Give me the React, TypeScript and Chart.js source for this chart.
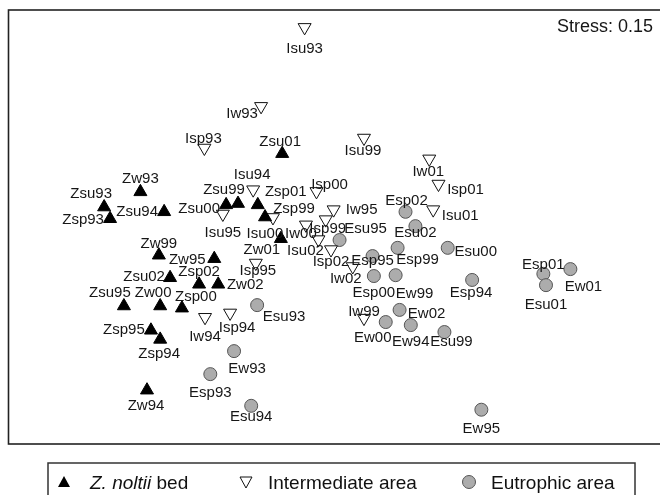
import React, { useEffect, useRef } from "react";
import { Chart, registerables } from "chart.js";

Chart.register(...registerables);

const FONT = '"Liberation Sans", Arial, Helvetica, sans-serif';

// Z. noltii bed samples
const zNames = ["Zsu01","Zw93","Zsu93","Zsp93","Zsu94","Zsu00","Zsu99","Zsp01","Zsp99","Zw01","Zw99","Zw95","Zsu02","Zsp02","Zw02","Zsu95","Zw00","Zsp00","Zsp95","Zsp94","Zw94"];
const zX = [41.5,20.0,14.5,15.4,23.6,33.0,34.8,37.8,38.9,41.3,22.8,31.2,24.5,28.9,31.8,17.5,23.0,26.3,21.6,23.0,21.0];
const zY = [66.9,58.1,54.6,51.9,53.5,55.1,55.4,55.1,52.3,47.3,43.5,42.7,38.3,36.8,36.8,31.8,31.8,31.3,26.2,24.1,12.4];

// Intermediate area samples
const iNames = ["Isu93","Iw93","Isp93","Isu99","Isu94","Isp00","Isu95","Isu00","Iw95","Iw00","Isp99","Isu02","Isp02","Iw02","Iw01","Isp01","Isu01","Isp95","Iw94","Isp94","Iw99"];
const iX = [44.9,38.3,29.7,53.9,37.1,46.7,32.5,40.1,49.3,45.1,48.1,47.0,48.9,52.2,63.8,65.2,64.4,37.5,29.8,33.6,53.9];
const iY = [96.0,77.8,68.2,70.5,58.6,58.2,53.0,52.2,54.0,50.5,51.7,47.1,44.8,40.9,65.7,59.9,54.0,41.7,29.2,30.2,29.0];

// Eutrophic area samples
const eNames = ["Esu95","Esp02","Esu02","Esp99","Esu00","Esp95","Esp00","Ew99","Esp94","Esp01","Ew01","Esu01","Ew02","Ew00","Ew94","Esu99","Esu93","Ew93","Esp93","Esu94","Ew95"];
const eX = [50.2,60.2,61.7,59.0,66.6,55.2,55.4,58.7,70.3,81.1,85.2,81.5,59.3,57.2,61.0,66.1,37.7,34.2,30.6,36.8,71.7];
const eY = [47.0,53.5,50.2,45.2,45.2,43.3,38.7,38.9,37.8,39.2,40.3,36.6,30.9,28.1,27.4,25.8,32.0,21.4,16.1,8.8,7.9];

const legendLabels = ["Z. noltii bed", "Intermediate area", "Eutrophic area"];
const stressText = "Stress: 0.15";

// label placement relative to each marker (style, in px)
const labelOffsets: Record<string, [number, number]> = {
  Zsu01: [-2, -13], Zw93: [0, -14], Zsu93: [-13, -14], Zsp93: [-27, 0], Zsu94: [-27, -1],
  Zsu00: [-27, 3], Zsu99: [-14, -15], Zsp01: [28, -14], Zsp99: [29, -9], Zw01: [-19, 10],
  Zw99: [0, -13], Zw95: [-27, 0], Zsu02: [-26, -2], Zsp02: [0, -14], Zw02: [27, -1],
  Zsu95: [-14, -14], Zw00: [-7, -14], Zsp00: [14, -13], Zsp95: [-27, -2], Zsp94: [-1, 13], Zw94: [-1, 14],
  Isu93: [0, 20], Iw93: [-19, 6], Isp93: [-1, -10], Isu99: [-1, 12], Isu94: [-1, -16],
  Isp00: [13, -8], Isu95: [0, 18], Isu00: [-8, 15], Iw95: [28, -1], Iw00: [-5, 8],
  Isp99: [2, 8], Isu02: [-13, 10], Isp02: [0, 11], Iw02: [-7, 11], Iw01: [-1, 12],
  Isp01: [27, 5], Isu01: [27, 5], Isp95: [2, 7], Iw94: [0, 18], Isp94: [7, 14], Iw99: [0, -8],
  Esu95: [26, -12], Esp02: [1, -12], Esu02: [0, 5], Esp99: [20, 11], Esu00: [28, 3],
  Esp95: [0, 4], Esp00: [0, 16], Ew99: [19, 17], Esp94: [-1, 12], Esp01: [0, -10],
  Ew01: [13, 17], Esu01: [0, 18], Ew02: [27, 3], Ew00: [-13, 15], Ew94: [0, 16],
  Esu99: [7, 9], Esu93: [27, 10], Ew93: [13, 16], Esp93: [0, 17], Esu94: [0, 10], Ew95: [0, 18],
};

const toPoints = (xs: number[], ys: number[]) => xs.map((x, i) => ({ x, y: ys[i] }));

const labelPlugin = {
  id: "pointLabels",
  afterDatasetsDraw(chart: any) {
    const ctx = chart.ctx;
    ctx.save();
    ctx.font = `15px ${FONT}`;
    ctx.fillStyle = "#161616";
    ctx.textAlign = "center";
    ctx.textBaseline = "alphabetic";
    chart.data.datasets.forEach((ds: any, di: number) => {
      const meta = chart.getDatasetMeta(di);
      const names: string[] = ds.names;
      meta.data.forEach((el: any, i: number) => {
        const name = names[i];
        const off = labelOffsets[name] || [0, 14];
        ctx.fillText(name, el.x + off[0], el.y + off[1] + 5.4);
      });
    });
    ctx.restore();
  },
};

const framePlugin = {
  id: "frameAndLegend",
  afterDraw(chart: any) {
    const ctx = chart.ctx;
    const a = chart.chartArea;
    ctx.save();
    // plot frame
    ctx.strokeStyle = "#222";
    ctx.lineWidth = 1.6;
    ctx.strokeRect(a.left, a.top, a.right - a.left, a.bottom - a.top);

    // stress text
    ctx.fillStyle = "#161616";
    ctx.font = `18px ${FONT}`;
    ctx.textAlign = "left";
    ctx.textBaseline = "alphabetic";
    ctx.fillText(stressText, 557, 32.4);

    // legend box
    ctx.strokeStyle = "#333";
    ctx.lineWidth = 1.5;
    ctx.strokeRect(48, 463, 587, 45);

    const cy = 482;
    // filled up triangle
    ctx.beginPath();
    ctx.moveTo(64, cy - 6);
    ctx.lineTo(70, cy + 5);
    ctx.lineTo(58, cy + 5);
    ctx.closePath();
    ctx.fillStyle = "#000";
    ctx.fill();

    // open down triangle
    ctx.beginPath();
    ctx.moveTo(240, cy - 5);
    ctx.lineTo(252, cy - 5);
    ctx.lineTo(246, cy + 6);
    ctx.closePath();
    ctx.fillStyle = "#fff";
    ctx.fill();
    ctx.strokeStyle = "#111";
    ctx.lineWidth = 1;
    ctx.stroke();

    // grey circle
    ctx.beginPath();
    ctx.arc(469, cy, 6.5, 0, Math.PI * 2);
    ctx.fillStyle = "#acacac";
    ctx.fill();
    ctx.strokeStyle = "#555";
    ctx.lineWidth = 1;
    ctx.stroke();

    // legend texts
    const base = 488.5;
    ctx.fillStyle = "#111";
    const first = legendLabels[0];
    const italicPart = first.slice(0, 9); // "Z. noltii"
    const rest = first.slice(9); // " bed"
    ctx.font = `italic 19px ${FONT}`;
    ctx.fillText(italicPart, 90, base);
    const w = ctx.measureText(italicPart).width;
    ctx.font = `19px ${FONT}`;
    ctx.fillText(rest, 90 + w, base);
    ctx.fillText(legendLabels[1], 268, base);
    ctx.fillText(legendLabels[2], 491, base);
    ctx.restore();
  },
};

export default function App() {
  const ref = useRef<HTMLCanvasElement | null>(null);

  useEffect(() => {
    if (!ref.current) return;
    const chart = new Chart(ref.current, {
      type: "scatter",
      data: {
        datasets: [
          {
            label: legendLabels[0],
            names: zNames,
            data: toPoints(zX, zY),
            pointStyle: "triangle",
            pointRadius: 7.5,
            pointHoverRadius: 7.5,
            backgroundColor: "#000",
            borderColor: "#000",
            borderWidth: 1,
          } as any,
          {
            label: legendLabels[1],
            names: iNames,
            data: toPoints(iX, iY),
            pointStyle: "triangle",
            rotation: 180,
            pointRotation: 180,
            pointRadius: 7.5,
            pointHoverRadius: 7.5,
            backgroundColor: "#fff",
            borderColor: "#111",
            borderWidth: 1,
          } as any,
          {
            label: legendLabels[2],
            names: eNames,
            data: toPoints(eX, eY),
            pointStyle: "circle",
            pointRadius: 6.5,
            pointHoverRadius: 6.5,
            backgroundColor: "#acacac",
            borderColor: "#555",
            borderWidth: 1,
          } as any,
        ],
      },
      options: {
        responsive: false,
        animation: false,
        devicePixelRatio: 1,
        layout: { padding: { left: 7, top: 10, right: 12, bottom: 51 } },
        scales: {
          x: { type: "linear", min: 0, max: 100, display: false },
          y: { type: "linear", min: 0, max: 100, display: false },
        },
        plugins: {
          legend: { display: false },
          tooltip: { enabled: false },
        },
        events: [],
      },
      plugins: [labelPlugin, framePlugin],
    });
    return () => chart.destroy();
  }, []);

  return (
    <div
      style={{
        position: "absolute",
        left: 0,
        top: 0,
        width: 660,
        height: 495,
        overflow: "hidden",
        background: "#fff",
      }}
    >
      <canvas ref={ref} width={680} height={495} style={{ width: 680, height: 495, display: "block" }} />
    </div>
  );
}
